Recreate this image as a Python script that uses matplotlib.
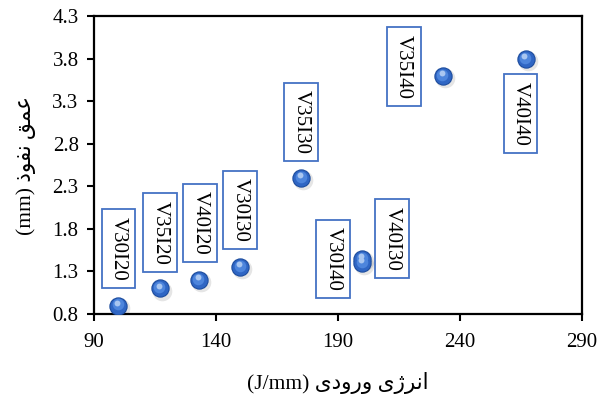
import matplotlib
matplotlib.use("Agg")
import matplotlib.pyplot as plt

# heat input (J/mm) vs penetration depth (mm)
labels = ["V30I20", "V35I20", "V40I20", "V30I30", "V35I30",
          "V30I40", "V40I30", "V35I40", "V40I40"]
heat_input = [100, 117, 133, 150, 175, 200, 200, 233, 267]
depth = [0.90, 1.10, 1.20, 1.35, 2.40, 1.40, 1.45, 3.60, 3.80]

x_ticks = [90, 140, 190, 240, 290]
y_ticks = [0.8, 1.3, 1.8, 2.3, 2.8, 3.3, 3.8, 4.3]

# label box offsets from each point, in pixels
label_offsets = [(0, 57), (0, 56), (1, 57), (0, 57), (0, 56),
                 (-29, 4), (30, 20), (-39, 9), (-5, -55)]

# Persian labels written in visual order with presentation forms
# (matplotlib does no Arabic shaping / bidi)
x_label = "(J/mm) " + "\uFBFC\uFEA9\uFEED\uFEAD\uFEED" + " " + "\uFBFC\uFB8A\uFEAE\uFEE7\uFE8D"
y_label = "(mm) " + "\uFEAB\uFEEE\uFED4\uFEE7" + " " + "\uFED6\uFEE4\uFECB"

fonts = ["Liberation Serif", "DejaVu Sans"]
plt.rcParams["font.family"] = fonts

fig = plt.figure(figsize=(6.06, 3.94), dpi=100)
ax = fig.add_axes([0.155, 0.203, 0.805, 0.756])

# sphere-like markers: shadow, body, highlight layers
ax.scatter([x + 0.8 for x in heat_input], [y - 0.025 for y in depth], s=200,
           color="#000000", alpha=0.10, zorder=2, linewidths=0)
ax.scatter(heat_input, depth, s=175, color="#1F4E9E", zorder=3, linewidths=0)
ax.scatter(heat_input, depth, s=135, color="#2F66C4", zorder=4, linewidths=0)
ax.scatter([x - 0.3 for x in heat_input], [y + 0.012 for y in depth], s=70,
           color="#4D85DC", zorder=5, linewidths=0)
ax.scatter([x - 0.5 for x in heat_input], [y + 0.035 for y in depth], s=18,
           color="#A9C6F0", zorder=6, linewidths=0)

for lab, x, y, off in zip(labels, heat_input, depth, label_offsets):
    ax.annotate(lab, (x, y), xytext=(off[0], off[1]), textcoords="offset pixels",
                rotation=-90, ha="center", va="center", fontsize=15,
                family=fonts, zorder=7,
                bbox=dict(boxstyle="square,pad=0.35", facecolor="white",
                          edgecolor="#4472C4", linewidth=1.3))

ax.set_xlim(90, 290)
ax.set_ylim(0.8, 4.3)
ax.set_xticks(x_ticks)
ax.set_yticks(y_ticks)
ax.set_yticklabels([f"{v:.1f}" for v in y_ticks])
ax.tick_params(direction="out", length=5, width=1.5, labelsize=15, pad=6)
ax.tick_params(axis="x", pad=9)
for sp in ax.spines.values():
    sp.set_linewidth(1.6)
    sp.set_color("black")

ax.set_xlabel(x_label, fontsize=15.5, family=fonts, labelpad=14)
ax.set_ylabel(y_label, fontsize=15.5, family=fonts, labelpad=12)

fig.savefig("out.png", dpi=100)
